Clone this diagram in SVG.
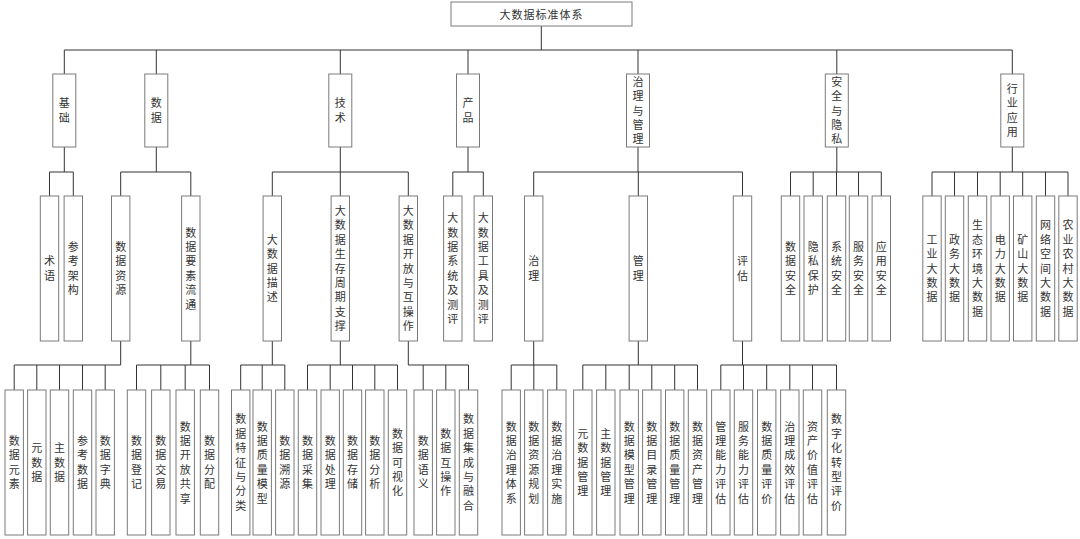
<svg xmlns="http://www.w3.org/2000/svg" width="1080" height="539" viewBox="0 0 1080 539">
<style>
rect{fill:#fff;stroke:#7a7a7a;stroke-width:1}
.c{fill:none;stroke:#333;stroke-width:1}
text{font-family:"Noto Sans CJK SC","Noto Sans CJK JP",sans-serif;font-size:11px;fill:#333}
.v{writing-mode:vertical-rl;text-anchor:middle;letter-spacing:3.4px}
.h{text-anchor:middle;letter-spacing:1px;dominant-baseline:central}
</style>
<rect width="1080" height="539" style="fill:#fff;stroke:none"/>
<g id="connectors">
<path class="c" d="M541.3 26V50M64.3 50H1012.3M64.3 50V74M156.3 50V74M340.3 50V74M468 50V74M638 50V74M836.8 50V74M1012.3 50V74"/>
<path class="c" d="M64.3 147V172M49.5 172H73.3M49.5 172V196M73.3 172V196"/>
<path class="c" d="M156.3 147V172M120.7 172H190.8M120.7 172V196M190.8 172V196"/>
<path class="c" d="M340.3 147V172M272.3 172H408.3M272.3 172V196M340.3 172V196M408.3 172V196"/>
<path class="c" d="M468 147V172M452.8 172H483.3M452.8 172V196M483.3 172V196"/>
<path class="c" d="M638 147V172M533.7 172H742.5M533.7 172V196M638.3 172V196M742.5 172V196"/>
<path class="c" d="M836.8 147V172M790.5 172H881.3M790.5 172V196M813.2 172V196M836.5 172V196M858.5 172V196M881.3 172V196"/>
<path class="c" d="M1012.3 147V172M932 172H1068M932 172V196M954.5 172V196M977.5 172V196M1000.2 172V196M1022.7 172V196M1045.5 172V196M1068 172V196"/>
<path class="c" d="M120.7 341V365M14.2 365H120.7M14.2 365V390M36.8 365V390M59.5 365V390M82.5 365V390M105.2 365V390"/>
<path class="c" d="M190.8 341V365M136.5 365H209.5M136.5 365V390M160.8 365V390M185.2 365V390M209.5 365V390"/>
<path class="c" d="M272.3 341V365M240.7 365H284.8M240.7 365V390M262.2 365V390M284.8 365V390"/>
<path class="c" d="M340.3 341V365M307.5 365H397.5M307.5 365V390M330.2 365V390M352.5 365V390M374.8 365V390M397.5 365V390"/>
<path class="c" d="M408.3 341V365M408.3 365H468.5M423.2 365V390M445.8 365V390M468.5 365V390"/>
<path class="c" d="M533.7 341V365M511.2 365H556.8M511.2 365V390M533.8 365V390M556.8 365V390"/>
<path class="c" d="M638.3 341V365M582.8 365H697.5M582.8 365V390M605.8 365V390M629.2 365V390M651.8 365V390M674.7 365V390M697.5 365V390"/>
<path class="c" d="M742.5 341V365M720.8 365H836.5M720.8 365V390M743.5 365V390M766.7 365V390M789.8 365V390M812.5 365V390M836.5 365V390"/>
</g>
<g id="root"><rect x="451" y="2" width="181" height="24"/><text class="h" x="541.5" y="14">大数据标准体系</text></g>
<g id="l1-jichu"><rect x="52.8" y="74" width="23" height="73"/><text class="v" x="64.3" y="112.2">基础</text></g>
<g id="l1-shuju"><rect x="144.8" y="74" width="23" height="73"/><text class="v" x="156.3" y="112.2">数据</text></g>
<g id="l1-jishu"><rect x="328.8" y="74" width="23" height="73"/><text class="v" x="340.3" y="112.2">技术</text></g>
<g id="l1-chanpin"><rect x="456.5" y="74" width="23" height="73"/><text class="v" x="468" y="112.2">产品</text></g>
<g id="l1-zhili"><rect x="626.5" y="74" width="23" height="73"/><text class="v" x="638" y="112.2">治理与管理</text></g>
<g id="l1-anquan"><rect x="825.3" y="74" width="23" height="73"/><text class="v" x="836.8" y="112.2">安全与隐私</text></g>
<g id="l1-hangye"><rect x="1000.8" y="74" width="23" height="73"/><text class="v" x="1012.3" y="112.2">行业应用</text></g>
<g id="l2-shuyu"><rect x="40.3" y="196" width="18.4" height="145"/><text class="v" x="49.5" y="270.2">术语</text></g>
<g id="l2-cankao"><rect x="64.1" y="196" width="18.4" height="145"/><text class="v" x="73.3" y="270.2">参考架构</text></g>
<g id="l2-ziyuan"><rect x="111.5" y="196" width="18.4" height="145"/><text class="v" x="120.7" y="270.2">数据资源</text></g>
<g id="l2-liutong"><rect x="181.6" y="196" width="18.4" height="145"/><text class="v" x="190.8" y="270.2">数据要素流通</text></g>
<g id="l2-miaoshu"><rect x="263.1" y="196" width="18.4" height="145"/><text class="v" x="272.3" y="270.2">大数据描述</text></g>
<g id="l2-shengcun"><rect x="331.1" y="196" width="18.4" height="145"/><text class="v" x="340.3" y="270.2">大数据生存周期支撑</text></g>
<g id="l2-kaifang"><rect x="399.1" y="196" width="18.4" height="145"/><text class="v" x="408.3" y="270.2">大数据开放与互操作</text></g>
<g id="l2-xitong"><rect x="443.6" y="196" width="18.4" height="145"/><text class="v" x="452.8" y="270.2">大数据系统及测评</text></g>
<g id="l2-gongju"><rect x="474.1" y="196" width="18.4" height="145"/><text class="v" x="483.3" y="270.2">大数据工具及测评</text></g>
<g id="l2-zhili"><rect x="524.5" y="196" width="18.4" height="145"/><text class="v" x="533.7" y="270.2">治理</text></g>
<g id="l2-guanli"><rect x="629.1" y="196" width="18.4" height="145"/><text class="v" x="638.3" y="270.2">管理</text></g>
<g id="l2-pinggu"><rect x="733.3" y="196" width="18.4" height="145"/><text class="v" x="742.5" y="270.2">评估</text></g>
<g id="l2-sjaq"><rect x="781.3" y="196" width="18.4" height="145"/><text class="v" x="790.5" y="270.2">数据安全</text></g>
<g id="l2-yinsi"><rect x="804" y="196" width="18.4" height="145"/><text class="v" x="813.2" y="270.2">隐私保护</text></g>
<g id="l2-xtaq"><rect x="827.3" y="196" width="18.4" height="145"/><text class="v" x="836.5" y="270.2">系统安全</text></g>
<g id="l2-fwaq"><rect x="849.3" y="196" width="18.4" height="145"/><text class="v" x="858.5" y="270.2">服务安全</text></g>
<g id="l2-yyaq"><rect x="872.1" y="196" width="18.4" height="145"/><text class="v" x="881.3" y="270.2">应用安全</text></g>
<g id="l2-gongye"><rect x="922.8" y="196" width="18.4" height="145"/><text class="v" x="932" y="270.2">工业大数据</text></g>
<g id="l2-zhengwu"><rect x="945.3" y="196" width="18.4" height="145"/><text class="v" x="954.5" y="270.2">政务大数据</text></g>
<g id="l2-shengtai"><rect x="968.3" y="196" width="18.4" height="145"/><text class="v" x="977.5" y="270.2">生态环境大数据</text></g>
<g id="l2-dianli"><rect x="991" y="196" width="18.4" height="145"/><text class="v" x="1000.2" y="270.2">电力大数据</text></g>
<g id="l2-kuangshan"><rect x="1013.5" y="196" width="18.4" height="145"/><text class="v" x="1022.7" y="270.2">矿山大数据</text></g>
<g id="l2-wangluo"><rect x="1036.3" y="196" width="18.4" height="145"/><text class="v" x="1045.5" y="270.2">网络空间大数据</text></g>
<g id="l2-nongye"><rect x="1058.8" y="196" width="18.4" height="145"/><text class="v" x="1068" y="270.2">农业农村大数据</text></g>
<g id="l3-1"><rect x="5" y="390" width="18.4" height="145"/><text class="v" x="14.2" y="464.2">数据元素</text></g>
<g id="l3-2"><rect x="27.6" y="390" width="18.4" height="145"/><text class="v" x="36.8" y="464.2">元数据</text></g>
<g id="l3-3"><rect x="50.3" y="390" width="18.4" height="145"/><text class="v" x="59.5" y="464.2">主数据</text></g>
<g id="l3-4"><rect x="73.3" y="390" width="18.4" height="145"/><text class="v" x="82.5" y="464.2">参考数据</text></g>
<g id="l3-5"><rect x="96" y="390" width="18.4" height="145"/><text class="v" x="105.2" y="464.2">数据字典</text></g>
<g id="l3-6"><rect x="127.3" y="390" width="18.4" height="145"/><text class="v" x="136.5" y="464.2">数据登记</text></g>
<g id="l3-7"><rect x="151.6" y="390" width="18.4" height="145"/><text class="v" x="160.8" y="464.2">数据交易</text></g>
<g id="l3-8"><rect x="176" y="390" width="18.4" height="145"/><text class="v" x="185.2" y="464.2">数据开放共享</text></g>
<g id="l3-9"><rect x="200.3" y="390" width="18.4" height="145"/><text class="v" x="209.5" y="464.2">数据分配</text></g>
<g id="l3-10"><rect x="231.5" y="390" width="18.4" height="145"/><text class="v" x="240.7" y="464.2">数据特征与分类</text></g>
<g id="l3-11"><rect x="253" y="390" width="18.4" height="145"/><text class="v" x="262.2" y="464.2">数据质量模型</text></g>
<g id="l3-12"><rect x="275.6" y="390" width="18.4" height="145"/><text class="v" x="284.8" y="464.2">数据溯源</text></g>
<g id="l3-13"><rect x="298.3" y="390" width="18.4" height="145"/><text class="v" x="307.5" y="464.2">数据采集</text></g>
<g id="l3-14"><rect x="321" y="390" width="18.4" height="145"/><text class="v" x="330.2" y="464.2">数据处理</text></g>
<g id="l3-15"><rect x="343.3" y="390" width="18.4" height="145"/><text class="v" x="352.5" y="464.2">数据存储</text></g>
<g id="l3-16"><rect x="365.6" y="390" width="18.4" height="145"/><text class="v" x="374.8" y="464.2">数据分析</text></g>
<g id="l3-17"><rect x="388.3" y="390" width="18.4" height="145"/><text class="v" x="397.5" y="464.2">数据可视化</text></g>
<g id="l3-18"><rect x="414" y="390" width="18.4" height="145"/><text class="v" x="423.2" y="464.2">数据语义</text></g>
<g id="l3-19"><rect x="436.6" y="390" width="18.4" height="145"/><text class="v" x="445.8" y="464.2">数据互操作</text></g>
<g id="l3-20"><rect x="459.3" y="390" width="18.4" height="145"/><text class="v" x="468.5" y="464.2">数据集成与融合</text></g>
<g id="l3-21"><rect x="502" y="390" width="18.4" height="145"/><text class="v" x="511.2" y="464.2">数据治理体系</text></g>
<g id="l3-22"><rect x="524.6" y="390" width="18.4" height="145"/><text class="v" x="533.8" y="464.2">数据资源规划</text></g>
<g id="l3-23"><rect x="547.6" y="390" width="18.4" height="145"/><text class="v" x="556.8" y="464.2">数据治理实施</text></g>
<g id="l3-24"><rect x="573.6" y="390" width="18.4" height="145"/><text class="v" x="582.8" y="464.2">元数据管理</text></g>
<g id="l3-25"><rect x="596.6" y="390" width="18.4" height="145"/><text class="v" x="605.8" y="464.2">主数据管理</text></g>
<g id="l3-26"><rect x="620" y="390" width="18.4" height="145"/><text class="v" x="629.2" y="464.2">数据模型管理</text></g>
<g id="l3-27"><rect x="642.6" y="390" width="18.4" height="145"/><text class="v" x="651.8" y="464.2">数据目录管理</text></g>
<g id="l3-28"><rect x="665.5" y="390" width="18.4" height="145"/><text class="v" x="674.7" y="464.2">数据质量管理</text></g>
<g id="l3-29"><rect x="688.3" y="390" width="18.4" height="145"/><text class="v" x="697.5" y="464.2">数据资产管理</text></g>
<g id="l3-30"><rect x="711.6" y="390" width="18.4" height="145"/><text class="v" x="720.8" y="464.2">管理能力评估</text></g>
<g id="l3-31"><rect x="734.3" y="390" width="18.4" height="145"/><text class="v" x="743.5" y="464.2">服务能力评估</text></g>
<g id="l3-32"><rect x="757.5" y="390" width="18.4" height="145"/><text class="v" x="766.7" y="464.2">数据质量评价</text></g>
<g id="l3-33"><rect x="780.6" y="390" width="18.4" height="145"/><text class="v" x="789.8" y="464.2">治理成效评估</text></g>
<g id="l3-34"><rect x="803.3" y="390" width="18.4" height="145"/><text class="v" x="812.5" y="464.2">资产价值评估</text></g>
<g id="l3-35"><rect x="827.3" y="390" width="18.4" height="145"/><text class="v" x="836.5" y="464.2">数字化转型评价</text></g>
</svg>
